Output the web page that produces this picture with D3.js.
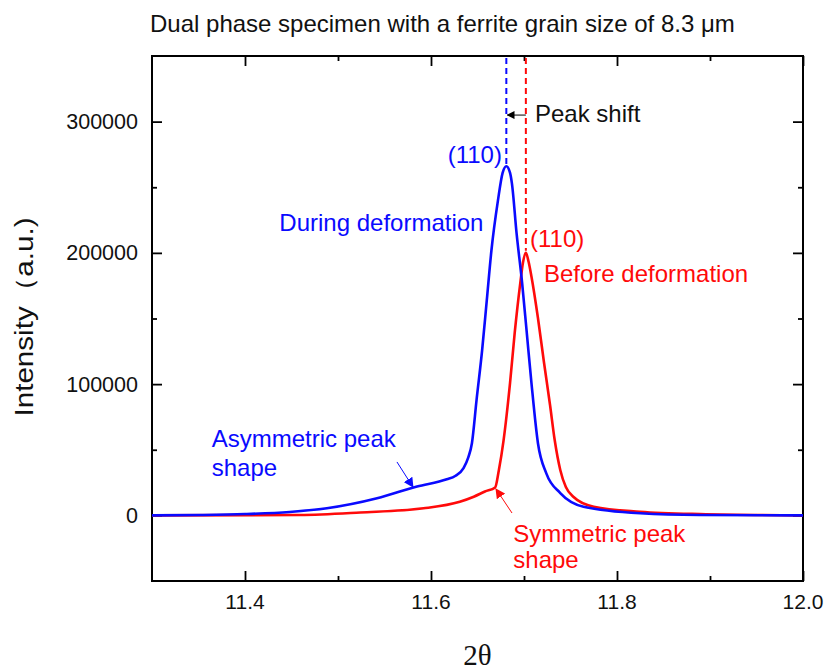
<!DOCTYPE html>
<html>
<head>
<meta charset="utf-8">
<script src="https://cdn.jsdelivr.net/npm/d3@7"></script>
<style>
  html, body { margin: 0; padding: 0; background: #fff; }
  svg { display: block; font-family: "Liberation Sans", Arial, sans-serif; }
</style>
</head>
<body>
<div id="chart"></div>
<script>
// ── Data ──────────────────────────────────────────────────────────────────────
const X_DOMAIN = [11.3, 12.0];
const Y_DOMAIN = [-50000, 350000];
const X_MAJOR  = [11.4, 11.6, 11.8, 12.0];
const X_MINOR  = [11.5, 11.7, 11.9];
const Y_MAJOR  = [0, 100000, 200000, 300000];
const Y_MINOR  = [50000, 150000, 250000];

// During deformation (blue)
const duringX = [11.300, 11.352, 11.400, 11.448, 11.488, 11.542, 11.585, 11.617, 11.626, 11.635,
                 11.640, 11.644, 11.649, 11.655, 11.660, 11.665, 11.672, 11.677, 11.681, 11.685,
                 11.687, 11.692, 11.698, 11.703, 11.708, 11.715, 11.724, 11.739, 11.764, 11.825,
                 11.889, 12.000];
const duringY = [0, 300, 1000, 2600, 5400, 13000, 22000, 27500, 30000, 36000,
                 44000, 55000, 88000, 126000, 164000, 202000, 240000, 261000, 266000, 261000,
                 253000, 215000, 177000, 139000, 101000, 55000, 32000, 17000, 6600, 1600,
                 300, 0];

// Before deformation (red)
const beforeX = [11.300, 11.459, 11.524, 11.592, 11.631, 11.646, 11.658, 11.669, 11.673, 11.678,
                 11.685, 11.690, 11.696, 11.699, 11.702, 11.705, 11.708, 11.715, 11.7215, 11.728,
                 11.733, 11.739, 11.745, 11.753, 11.775, 11.825, 11.889, 12.000];
const beforeY = [0, 300, 2200, 5400, 10400, 14200, 18200, 21300, 34600, 57000,
                 101000, 139000, 177000, 193000, 200000, 193000, 182000, 150400, 116500, 84100,
                 57400, 34600, 21600, 14200, 6600, 2800, 1000, 0];

const PEAK_DURING = { x: 11.681, y: 266000 };
const PEAK_BEFORE = { x: 11.702, y: 200000 };
const SHIFT_Y     = 305000;

const BLUE = '#0a0aff';
const RED  = '#ff0a0a';

// ── Layout ───────────────────────────────────────────────────────────────────
const W = 827, H = 670;
const margin = { top: 56, right: 24, bottom: 89, left: 152 };
const iW = W - margin.left - margin.right;
const iH = H - margin.top - margin.bottom;

const x = d3.scaleLinear().domain(X_DOMAIN).range([0, iW]);
const y = d3.scaleLinear().domain(Y_DOMAIN).range([iH, 0]);

const svg = d3.select('#chart').append('svg')
  .attr('width', W).attr('height', H);

const g = svg.append('g').attr('transform', `translate(${margin.left},${margin.top})`);

const defs = svg.append('defs');
function marker(id, color, size) {
  defs.append('marker')
    .attr('id', id).attr('viewBox', '0 0 10 10')
    .attr('refX', 9).attr('refY', 5)
    .attr('markerWidth', size).attr('markerHeight', size)
    .attr('markerUnits', 'userSpaceOnUse')
    .attr('orient', 'auto')
    .append('path').attr('d', 'M0,0 L10,5 L0,10 z').attr('fill', color);
}
marker('arr-black', '#000', 8);
marker('arr-blue', BLUE, 10);
marker('arr-red', RED, 10);

// ── Axes (ticks inward on all four sides) ────────────────────────────────────
function axis(gen, scale, ticks, size, transform) {
  const a = g.append('g').attr('transform', transform)
    .call(gen(scale).tickValues(ticks).tickSize(size).tickFormat(''));
  a.select('.domain').remove();
  a.selectAll('line').attr('stroke', '#000').attr('stroke-width', 1.8);
}
axis(d3.axisTop,    x, X_MAJOR, 10, `translate(0,${iH})`);
axis(d3.axisTop,    x, X_MINOR, 5,  `translate(0,${iH})`);
axis(d3.axisBottom, x, X_MAJOR, 10, 'translate(0,0)');
axis(d3.axisBottom, x, X_MINOR, 5,  'translate(0,0)');
axis(d3.axisRight,  y, Y_MAJOR, 10, 'translate(0,0)');
axis(d3.axisRight,  y, Y_MINOR, 5,  'translate(0,0)');
axis(d3.axisLeft,   y, Y_MAJOR, 10, `translate(${iW},0)`);
axis(d3.axisLeft,   y, Y_MINOR, 5,  `translate(${iW},0)`);

g.append('rect')
  .attr('width', iW).attr('height', iH)
  .attr('fill', 'none').attr('stroke', '#000').attr('stroke-width', 2);

// Tick labels
g.append('g').selectAll('text').data(X_MAJOR).join('text')
  .attr('x', d => x(d)).attr('y', iH + 28)
  .attr('text-anchor', 'middle')
  .style('font-size', '21px').attr('fill', '#111')
  .text(d => d.toFixed(1));

g.append('g').selectAll('text').data(Y_MAJOR).join('text')
  .attr('x', -14).attr('y', d => y(d) + 7.5)
  .attr('text-anchor', 'end')
  .style('font-size', '21.5px').attr('fill', '#111')
  .text(d => d);

// Axis titles
svg.append('text')
  .attr('x', margin.left + iW / 2).attr('y', 665)
  .attr('text-anchor', 'middle')
  .style('font-family', '"Liberation Serif", "Times New Roman", serif')
  .style('font-size', '29px').attr('fill', '#111')
  .text('2θ');

svg.append('text')
  .attr('transform', 'translate(33,317) rotate(-90)')
  .attr('text-anchor', 'middle')
  .attr('textLength', 199).attr('lengthAdjust', 'spacingAndGlyphs')
  .style('font-size', '25px').attr('fill', '#111')
  .text('Intensity（a.u.)');

svg.append('text')
  .attr('x', 150).attr('y', 31.5)
  .style('font-size', '24px').attr('fill', '#111')
  .text('Dual phase specimen with a ferrite grain size of 8.3 μm');

// ── Curves ───────────────────────────────────────────────────────────────────
const line = d3.line()
  .x(d => x(d[0])).y(d => y(d[1]))
  .curve(d3.curveMonotoneX);

g.append('path')
  .datum(d3.zip(beforeX, beforeY))
  .attr('d', line)
  .attr('fill', 'none').attr('stroke', RED).attr('stroke-width', 2.6)
  .attr('stroke-linejoin', 'round');

g.append('path')
  .datum(d3.zip(duringX, duringY))
  .attr('d', line)
  .attr('fill', 'none').attr('stroke', BLUE).attr('stroke-width', 2.6)
  .attr('stroke-linejoin', 'round');

// ── Peak markers ─────────────────────────────────────────────────────────────
[[PEAK_DURING, BLUE], [PEAK_BEFORE, RED]].forEach(([p, c]) => {
  g.append('line')
    .attr('x1', x(p.x)).attr('x2', x(p.x))
    .attr('y1', 2).attr('y2', y(p.y) - 2)
    .attr('stroke', c).attr('stroke-width', 2)
    .attr('stroke-dasharray', '6,4');
});

g.append('line')
  .attr('x1', x(PEAK_BEFORE.x)).attr('x2', x(PEAK_DURING.x) + 1)
  .attr('y1', y(SHIFT_Y)).attr('y2', y(SHIFT_Y))
  .attr('stroke', '#000').attr('stroke-width', 1)
  .attr('marker-end', 'url(#arr-black)');

// ── Annotations (positions in data units) ────────────────────────────────────
const labels = [
  { t: 'Peak shift',         x: 11.7118, y: 300000, c: '#111', a: 'start' },
  { t: '(110)',              x: 11.6763, y: 268500, c: BLUE,   a: 'end' },
  { t: 'During deformation', x: 11.4369, y: 216900, c: BLUE,   a: 'start' },
  { t: '(110)',              x: 11.7065, y: 204700, c: RED,    a: 'start' },
  { t: 'Before deformation', x: 11.7215, y: 178000, c: RED,    a: 'start' },
  { t: 'Asymmetric peak',    x: 11.3642, y: 52300,  c: BLUE,   a: 'start' },
  { t: 'shape',              x: 11.3642, y: 30000,  c: BLUE,   a: 'start' },
  { t: 'Symmetric peak',     x: 11.6885, y: -20000, c: RED,    a: 'start' },
  { t: 'shape',              x: 11.6885, y: -40300, c: RED,    a: 'start' },
];

g.append('g').selectAll('text').data(labels).join('text')
  .attr('x', d => x(d.x)).attr('y', d => y(d.y))
  .attr('text-anchor', d => d.a)
  .attr('fill', d => d.c)
  .style('font-size', '24px')
  .text(d => d.t);

const pointers = [
  { x1: 11.5634, y1: 40700, x2: 11.5806, y2: 21600, c: BLUE, m: 'arr-blue' },
  { x1: 11.6871, y1: 1800,  x2: 11.6699, y2: 20100, c: RED,  m: 'arr-red' },
];
g.append('g').selectAll('line').data(pointers).join('line')
  .attr('x1', d => x(d.x1)).attr('y1', d => y(d.y1))
  .attr('x2', d => x(d.x2)).attr('y2', d => y(d.y2))
  .attr('stroke', d => d.c).attr('stroke-width', 1)
  .attr('marker-end', d => `url(#${d.m})`);
</script>
</body>
</html>
